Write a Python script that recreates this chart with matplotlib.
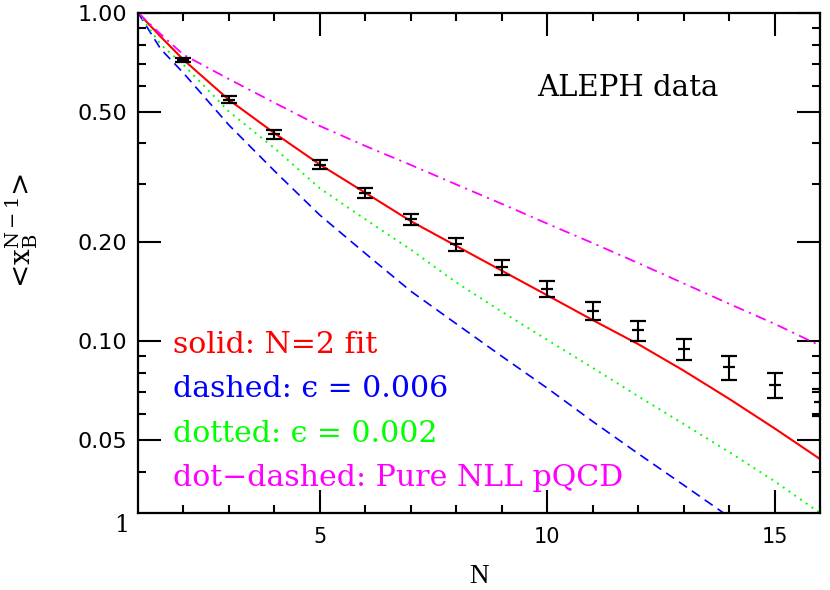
import matplotlib
matplotlib.use("Agg")
import matplotlib.pyplot as plt
import numpy as np

# ---- data ----
N_data = [2, 3, 4, 5, 6, 7, 8, 9, 10, 11, 12, 13, 14, 15, 16]
x_data = [0.716, 0.544, 0.426, 0.345, 0.283, 0.235, 0.197, 0.168, 0.1445,
          0.124, 0.108, 0.0946, 0.0833, 0.0736, 0.0655]
x_err = [0.010, 0.0135, 0.012, 0.0115, 0.0107, 0.0097, 0.0094, 0.0084, 0.0085,
         0.0080, 0.0075, 0.0072, 0.0069, 0.0065, 0.0062]

N_curve = [1, 1.5, 2, 3, 4, 5, 6, 7, 8, 9, 10, 11, 12, 13, 14, 15, 16]
red_fit = [1.0, 0.845, 0.719, 0.543, 0.430, 0.345, 0.283, 0.232, 0.195, 0.164,
           0.138, 0.116, 0.098, 0.0814, 0.0668, 0.0543, 0.0438]
green_eps002 = [1.0, 0.80, 0.694, 0.50, 0.387, 0.292, 0.235, 0.19, 0.151, 0.123,
                0.101, 0.083, 0.068, 0.056, 0.046, 0.0375, 0.0300]
magenta_nll = [1.0, 0.86, 0.745, 0.628, 0.532, 0.452, 0.393, 0.344, 0.300, 0.262,
               0.228, 0.199, 0.173, 0.150, 0.130, 0.113, 0.097]
N_blue = [1, 1.5, 2, 3, 4, 5, 6, 7, 8, 9, 10, 11, 12, 13, 14]
blue_eps006 = [1.0, 0.775, 0.655, 0.455, 0.33, 0.242, 0.185, 0.142, 0.113, 0.090,
               0.072, 0.057, 0.0455, 0.0365, 0.0292]

y_major = [0.05, 0.10, 0.20, 0.50, 1.00]
y_major_labels = ["0.05", "0.10", "0.20", "0.50", "1.00"]
y_minor = [0.04, 0.06, 0.07, 0.08, 0.09, 0.3, 0.4, 0.6, 0.7, 0.8, 0.9]
x_major = [5, 10, 15]
x_minor = [2, 3, 4, 6, 7, 8, 9, 11, 12, 13, 14, 16]

legend_lines = ["solid: N=2 fit", "dashed: \u03f5 = 0.006",
                "dotted: \u03f5 = 0.002", "dot\u2212dashed: Pure NLL pQCD"]
legend_colors = ["#ff0000", "#0000ff", "#00ff00", "#ff00ff"]

plt.rcParams["mathtext.fontset"] = "dejavuserif"

# ---- figure ----
W, H = 830, 590
L, R, T, B = 138, 820, 12.7, 513
fig = plt.figure(figsize=(8.3, 5.9), dpi=100)
ax = fig.add_axes([L/W, 1-B/H, (R-L)/W, (B-T)/H])
ax.set_yscale("log")
ax.set_xlim(1, 16)
ax.set_ylim(0.03, 1.0)

def axpos(px, py):
    return (px - L) / (R - L), (B - py) / (B - T)

ax.plot(N_curve, red_fit, color="#ff0000", lw=1.5, solid_capstyle="butt")
ax.plot(N_blue, blue_eps006, color="#0000ff", lw=1.2, linestyle=(0, (5.8, 3.6)))
ax.plot(N_curve, green_eps002, color="#00ff00", lw=1.4, linestyle=(0, (1, 2.6)))
ax.plot(N_curve, magenta_nll, color="#ff00ff", lw=1.3, linestyle=(0, (6, 3, 1.2, 3)))

ax.errorbar(N_data, x_data, yerr=x_err, fmt="_", color="black", ms=8, mew=1.6,
            elinewidth=1.5, capsize=6, capthick=1.8)

for sp in ax.spines.values():
    sp.set_linewidth(1.6)

ax.yaxis.set_major_locator(matplotlib.ticker.FixedLocator(y_major))
ax.yaxis.set_major_formatter(matplotlib.ticker.FixedFormatter(y_major_labels))
ax.yaxis.set_minor_locator(matplotlib.ticker.FixedLocator(y_minor))
ax.yaxis.set_minor_formatter(matplotlib.ticker.NullFormatter())
ax.xaxis.set_major_locator(matplotlib.ticker.FixedLocator(x_major))
ax.xaxis.set_minor_locator(matplotlib.ticker.FixedLocator(x_minor))
ax.tick_params(which="both", direction="in", top=True, right=True, width=1.5)
ax.tick_params(which="major", length=16.5, pad=9)
ax.tick_params(axis="x", which="major", labelsize=15, pad=10)
ax.tick_params(axis="y", which="major", labelsize=16, pad=8)
ax.tick_params(which="minor", length=6)
for lab in ax.get_xticklabels() + ax.get_yticklabels():
    lab.set_family("DejaVu Sans")

fx, fy = axpos(122, 526)
ax.text(fx, fy, "1", transform=ax.transAxes, ha="center", va="center",
        fontsize=17, family="DejaVu Serif")

fx, fy = axpos(479, 583)
ax.text(fx, fy, "N", transform=ax.transAxes, ha="center", va="baseline",
        fontsize=19.5, family="Liberation Serif")

fx, fy = axpos(22, 230)
ax.text(fx, fy, r"<x$_{\rm B}^{\rm N-1}$>", transform=ax.transAxes, ha="center",
        va="center", rotation=90, fontsize=20, family="DejaVu Serif")

serif = ["DejaVu Serif", "DejaVu Sans"]
fx, fy = axpos(537, 96)
ax.text(fx, fy, "ALEPH data", transform=ax.transAxes, ha="left", va="baseline",
        fontsize=21, family=serif)

baselines = [353, 397.5, 442, 486.5]
for t, c, yb in zip(legend_lines, legend_colors, baselines):
    fx, fy = axpos(173, yb)
    ax.text(fx, fy, t, transform=ax.transAxes, ha="left", va="baseline",
            fontsize=21.6, color=c, family=serif)

fig.savefig("out.png", dpi=100)
